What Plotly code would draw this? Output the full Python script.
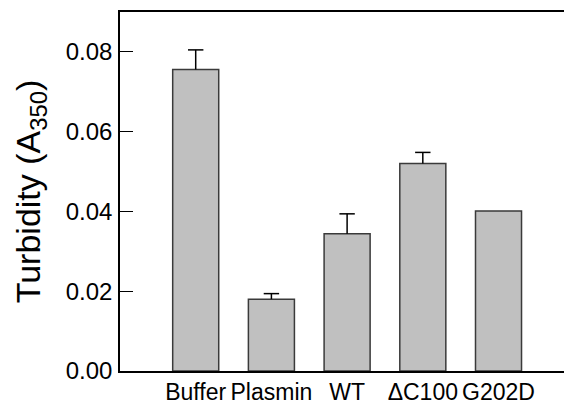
import plotly.graph_objects as go

categories = ["Buffer", "Plasmin", "WT", "ΔC100", "G202D"]
turbidity = [0.0756, 0.0180, 0.0344, 0.0520, 0.0401]
errors = [0.0049, 0.0014, 0.0050, 0.0028, None]
y_ticks = [0.00, 0.02, 0.04, 0.06, 0.08]

FONT = "Liberation Sans, Arial, sans-serif"

fig = go.Figure()
fig.add_trace(go.Bar(
    x=categories,
    y=turbidity,
    marker=dict(color="#c0c0c0", line=dict(color="#3a3a3a", width=1.5)),
    width=0.608,
))

# error bars (upper only) for bars that have an error value
err_x = [c for c, e in zip(categories, errors) if e is not None]
err_y = [v for v, e in zip(turbidity, errors) if e is not None]
err_v = [e for e in errors if e is not None]
err_top = [v + e for v, e in zip(err_y, err_v)]
fig.add_trace(go.Scatter(
    x=err_x, y=err_y, mode="markers",
    marker=dict(size=1, opacity=0),
    error_y=dict(type="data", array=err_v, symmetric=False,
                 arrayminus=[0] * len(err_v),
                 color="black", thickness=1.5, width=0, visible=True),
    hoverinfo="skip",
))
fig.add_trace(go.Scatter(
    x=err_x, y=err_top, mode="markers",
    marker=dict(symbol="line-ew", size=11, line=dict(color="black", width=1.5)),
    hoverinfo="skip",
))

fig.update_layout(
    width=564, height=409,
    margin=dict(l=120, r=0, t=12, b=38),
    paper_bgcolor="white", plot_bgcolor="white",
    showlegend=False,
    font=dict(family=FONT, color="black"),
    xaxis=dict(
        range=[-1, 4.865], showline=True, linecolor="black", linewidth=1.5,
        mirror=True, ticks="", showgrid=False, zeroline=False,
        tickfont=dict(size=23, family=FONT, color="black"),
    ),
    yaxis=dict(
        range=[0, 0.09], showline=True, linecolor="black", linewidth=1.5,
        ticks="inside", ticklen=13, tickwidth=1, tickcolor="black",
        tickvals=y_ticks, tickformat=".2f", showgrid=False, zeroline=False,
        tickfont=dict(size=24, family=FONT, color="black"),
        ticklabelstandoff=1,
        title=dict(text="Turbidity (A<sub>350</sub>)",
                   font=dict(size=34, family=FONT, color="black"),
                   standoff=15),
    ),
)

fig.write_html("out.html")
